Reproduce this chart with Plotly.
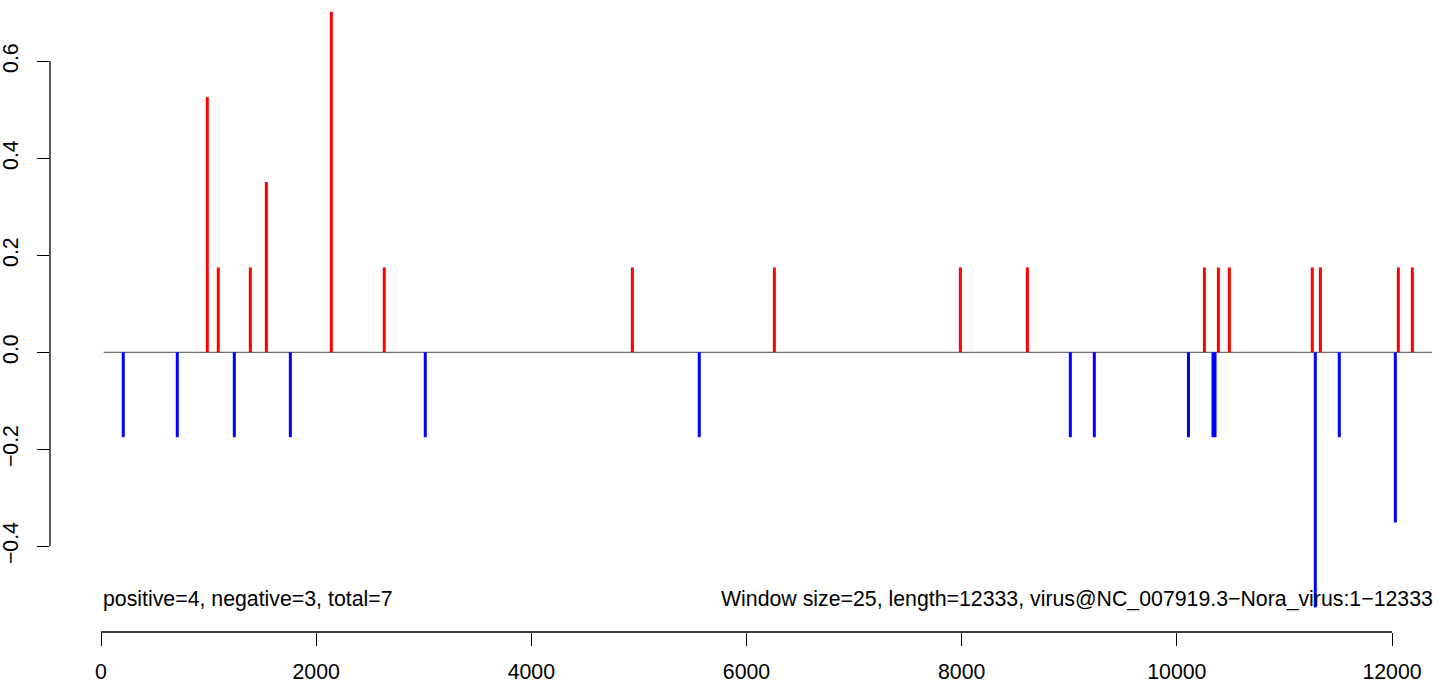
import plotly.graph_objects as go

# ---- data ----
pos_x = [988, 1090, 1388, 1537, 2141, 2633, 4939, 6259, 7988, 8611,
         10256, 10386, 10488, 11259, 11334, 12059, 12189]
pos_y = [0.526, 0.175, 0.175, 0.351, 0.702, 0.175, 0.175, 0.175, 0.175, 0.175,
         0.175, 0.175, 0.175, 0.175, 0.175, 0.175, 0.175]
neg_x = [207, 709, 1239, 1760, 3014, 5561, 9010, 9233, 10108, 10336, 10355,
         11287, 11510, 12031]
neg_y = [-0.175, -0.175, -0.175, -0.175, -0.175, -0.175, -0.175, -0.175, -0.175,
         -0.175, -0.175, -0.526, -0.175, -0.351]
x_ticks = [0, 2000, 4000, 6000, 8000, 10000, 12000]
y_ticks = [-0.4, -0.2, 0.0, 0.2, 0.4, 0.6]
y_tick_labels = ["\u22120.4", "\u22120.2", "0.0", "0.2", "0.4", "0.6"]
window_start = 25
window_end = 12374
left_text = "positive=4, negative=3, total=7"
right_text = "Window size=25, length=12333, virus@NC_007919.3\u2212Nora_virus:1\u221212333"

FONT = "Liberation Sans, Arial, Helvetica, sans-serif"
FS = 21.3
X_RANGE = [-474.05, 12446.1]
Y_RANGE = [-0.5767, 0.7264]


def stems(xs, ys):
    sx, sy = [], []
    for x, y in zip(xs, ys):
        sx += [x, x, None]
        sy += [0, y, None]
    return sx, sy


fig = go.Figure()
px_, py_ = stems(pos_x, pos_y)
nx_, ny_ = stems(neg_x, neg_y)
fig.add_trace(go.Scatter(x=px_, y=py_, mode="lines",
                         line=dict(color="#FF0000", width=3), hoverinfo="skip"))
fig.add_trace(go.Scatter(x=nx_, y=ny_, mode="lines",
                         line=dict(color="#0000FF", width=3), hoverinfo="skip"))

shapes = [
    # zero reference line
    dict(type="line", xref="x", yref="y", x0=window_start, x1=window_end, y0=0, y1=0,
         line=dict(color="#4d4d4d", width=1), layer="below"),
    # x axis line (R style: only between extreme ticks)
    dict(type="line", xref="x", yref="paper", x0=x_ticks[0], x1=x_ticks[-1], y0=0, y1=0,
         line=dict(color="black", width=1.3)),
    # y axis line
    dict(type="line", xref="paper", yref="y", x0=0, x1=0, y0=y_ticks[0], y1=y_ticks[-1],
         line=dict(color="black", width=1.3)),
]

annotations = [
    dict(x=window_start, y=-0.5107, xref="x", yref="y", text=left_text,
         showarrow=False, xanchor="left", yanchor="middle", xshift=-3, yshift=1,
         font=dict(family=FONT, size=FS, color="black")),
    dict(x=window_end, y=-0.5107, xref="x", yref="y", text=right_text,
         showarrow=False, xanchor="right", yanchor="middle", xshift=3, yshift=1,
         font=dict(family=FONT, size=FS, color="black")),
]

fig.update_layout(
    width=1450, height=683,
    margin=dict(l=50, r=10, t=0, b=51, autoexpand=False),
    paper_bgcolor="white", plot_bgcolor="white",
    showlegend=False,
    shapes=shapes, annotations=annotations,
    font=dict(family=FONT, size=FS, color="black"),
    xaxis=dict(range=X_RANGE, tickvals=x_ticks, ticktext=[str(t) for t in x_ticks],
               ticks="outside", ticklen=13, tickwidth=1.3, tickcolor="black",
               ticklabelstandoff=7, automargin=False,
               showline=False, showgrid=False, zeroline=False,
               tickfont=dict(family=FONT, size=FS, color="black")),
    yaxis=dict(range=Y_RANGE, tickvals=y_ticks, ticktext=y_tick_labels,
               tickangle=-90, ticklabelstandoff=10, automargin=False,
               ticks="outside", ticklen=12, tickwidth=1.3, tickcolor="black",
               showline=False, showgrid=False, zeroline=False,
               tickfont=dict(family=FONT, size=FS, color="black")),
)

fig.write_html("out.html", config={"displayModeBar": False},
               post_script="document.body.style.margin='0';document.body.style.overflow='hidden';")
